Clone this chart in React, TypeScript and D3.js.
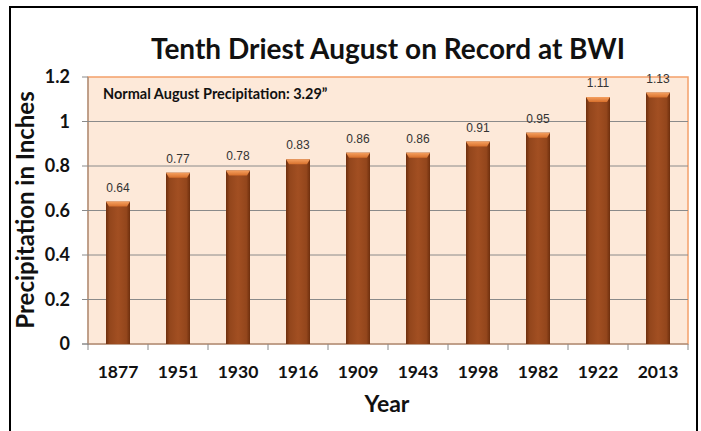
import React from 'react';
import * as d3 from 'd3';

const years = ['1877', '1951', '1930', '1916', '1909', '1943', '1998', '1982', '1922', '2013'];
const precip = [0.64, 0.77, 0.78, 0.83, 0.86, 0.86, 0.91, 0.95, 1.11, 1.13];
const yTicks = [0, 0.2, 0.4, 0.6, 0.8, 1, 1.2];

const font = 'Lato, "Open Sans", sans-serif';

export default function App() {
  const width = 701,
        height = 431,
        left = 88,
        right = 688,
        top = 77,
        bottom = 344;

  const x = d3.scaleBand()
              .domain(years)
              .range([left, right]);

  const y = d3.scaleLinear()
              .domain([0, 1.2])
              .range([bottom, top]);

  const barW = 24;

  return (
    <svg width={width} height={height}
         style={{position: 'absolute', left: 0, top: 0, background: 'white'}}>
      <defs>
        <linearGradient id="barGrad" x1="0" x2="1" y1="0" y2="0">
          <stop offset="0" stopColor="#6e2f0e" />
          <stop offset="0.15" stopColor="#93461c" />
          <stop offset="0.5" stopColor="#a24f22" />
          <stop offset="0.85" stopColor="#93461c" />
          <stop offset="1" stopColor="#6e2f0e" />
        </linearGradient>
        <linearGradient id="capGrad" x1="0" x2="0" y1="0" y2="1">
          <stop offset="0" stopColor="#f5a060" />
          <stop offset="1" stopColor="#d8702c" />
        </linearGradient>
      </defs>

      <rect x={10} y={7} width={687} height={440} fill="white"
            stroke="black" strokeWidth={2} />

      <text x={388} y={59} textAnchor="middle" fontFamily={font}
            fontWeight="bold" fontSize={28} fill="#111">
        Tenth Driest August on Record at BWI
      </text>

      <rect x={left} y={top} width={right - left} height={bottom - top}
            fill="#fde9d9" stroke="#f4a06a" strokeWidth={1.5} />

      {yTicks.filter(t => t > 0 && t < 1.2).map(t =>
        <line key={t} x1={left} x2={right} y1={y(t)} y2={y(t)}
              stroke="#8a8a8a" strokeWidth={1} />
      )}

      {yTicks.map(t =>
        <g key={'t' + t}>
          <line x1={left - 6} x2={left} y1={y(t)} y2={y(t)}
                stroke="#8a8a8a" strokeWidth={1} />
          <text x={70} y={y(t)} dy="0.35em" textAnchor="end"
                fontFamily={font} fontWeight="bold" fontSize={18} fill="#111">
            {d3.format('~g')(t)}
          </text>
        </g>
      )}

      <line x1={left} x2={left} y1={top} y2={bottom + 1} stroke="#8a8a8a" />
      <line x1={left - 6} x2={right} y1={bottom} y2={bottom} stroke="#8a8a8a" />

      {d3.range(years.length + 1).map(i =>
        <line key={'xt' + i} x1={left + i * x.step()} x2={left + i * x.step()}
              y1={bottom} y2={bottom + 6} stroke="#8a8a8a" />
      )}

      {years.map((yr, i) => {
        const cx = x(yr) + x.bandwidth() / 2;
        const bx = cx - barW / 2;
        const by = y(precip[i]);
        return (
          <g key={yr}>
            <rect x={bx} y={by} width={barW} height={bottom - by}
                  fill="url(#barGrad)" />
            <polygon points={`${bx},${by} ${bx + barW},${by} ${bx + barW - 3},${by + 5} ${bx + 3},${by + 5}`}
                     fill="url(#capGrad)" />
            <text x={cx} y={by - 10} textAnchor="middle"
                  fontFamily='"Liberation Sans", Arial, sans-serif'
                  fontSize={12} fill="#333">
              {precip[i].toFixed(2)}
            </text>
            <text x={cx} y={372} dy="0.35em" textAnchor="middle"
                  fontFamily={font} fontWeight="bold" fontSize={17.5} fill="#111">
              {yr}
            </text>
          </g>
        );
      })}

      <text x={103} y={99} fontFamily={font} fontWeight="bold"
            fontSize={14.5} fill="#111">
        Normal August Precipitation: 3.29”
      </text>

      <text x={387} y={412} textAnchor="middle" fontFamily={font}
            fontWeight="bold" fontSize={23} fill="#111">
        Year
      </text>

      <text transform="translate(26,210) rotate(-90)" textAnchor="middle"
            dy="0.35em" fontFamily={font} fontWeight="bold" fontSize={24}
            fill="#111">
        Precipitation in Inches
      </text>
    </svg>
  );
}
